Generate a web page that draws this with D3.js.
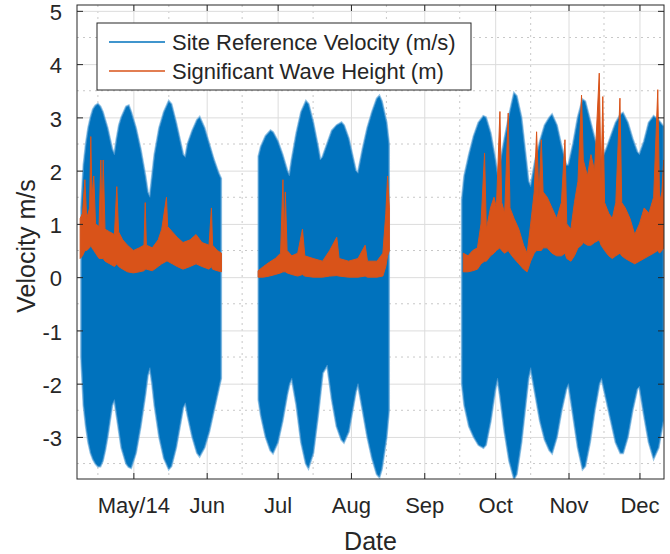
<!DOCTYPE html>
<html>
<head>
<meta charset="utf-8">
<script src="https://cdn.jsdelivr.net/npm/d3@7"></script>
<style>
  body { margin: 0; background: #fff; }
  svg text { font-family: "Liberation Sans", Arial, sans-serif; fill: #262626; }
</style>
</head>
<body>
<div id="chart"></div>
<script>
// tidal velocity: upper / lower edge of the dense blue trace, null = gap in the record
const velocityDates = [
  "2014-04-09", "2014-04-10", "2014-04-11", "2014-04-12", "2014-04-13", "2014-04-14", "2014-04-15",
  "2014-04-16", "2014-04-17", "2014-04-18", "2014-04-19", "2014-04-20", "2014-04-21", "2014-04-22",
  "2014-04-23", "2014-04-24", "2014-04-25", "2014-04-26", "2014-04-28", "2014-04-29", "2014-04-30",
  "2014-05-02", "2014-05-04", "2014-05-06", "2014-05-07", "2014-05-08", "2014-05-09", "2014-05-10",
  "2014-05-12", "2014-05-14", "2014-05-16", "2014-05-17", "2014-05-19", "2014-05-21", "2014-05-22",
  "2014-05-23", "2014-05-24", "2014-05-26", "2014-05-28", "2014-05-29", "2014-05-31",
  "2014-06-02", "2014-06-04", "2014-06-06", "2014-06-07",
  "2014-06-15",
  "2014-06-23", "2014-06-24", "2014-06-26", "2014-06-28", "2014-06-29",
  "2014-07-01", "2014-07-03", "2014-07-05", "2014-07-06", "2014-07-07", "2014-07-09", "2014-07-11",
  "2014-07-13", "2014-07-14", "2014-07-16", "2014-07-18", "2014-07-19", "2014-07-20", "2014-07-22",
  "2014-07-24", "2014-07-26", "2014-07-28", "2014-07-29", "2014-07-31",
  "2014-08-02", "2014-08-03", "2014-08-04", "2014-08-06", "2014-08-08", "2014-08-10", "2014-08-12",
  "2014-08-13", "2014-08-14", "2014-08-16", "2014-08-17",
  "2014-09-01",
  "2014-09-17", "2014-09-18", "2014-09-20", "2014-09-22", "2014-09-24", "2014-09-26", "2014-09-27",
  "2014-09-29",
  "2014-10-01", "2014-10-02", "2014-10-03", "2014-10-05", "2014-10-07", "2014-10-09", "2014-10-10",
  "2014-10-12", "2014-10-14", "2014-10-15", "2014-10-16", "2014-10-18", "2014-10-20", "2014-10-22",
  "2014-10-24", "2014-10-25", "2014-10-27", "2014-10-29", "2014-10-31",
  "2014-11-01", "2014-11-03", "2014-11-05", "2014-11-07", "2014-11-08", "2014-11-10", "2014-11-12",
  "2014-11-14", "2014-11-15", "2014-11-17", "2014-11-19", "2014-11-21", "2014-11-23", "2014-11-24",
  "2014-11-26", "2014-11-28", "2014-11-30",
  "2014-12-01", "2014-12-03", "2014-12-05", "2014-12-07", "2014-12-09", "2014-12-11"
];
const velocityMax = [
  1.3, 2.1, 2.5, 2.8, 3.0, 3.15, 3.22, 3.25, 3.2, 3.1, 2.95, 2.8, 2.6, 2.4,
  2.3, 2.6, 2.85, 3.0, 3.2, 3.22, 3.1,
  2.8, 2.4, 1.9, 1.6, 1.5, 1.9, 2.3, 2.8, 3.1, 3.3, 3.25, 2.9, 2.5, 2.3,
  2.25, 2.5, 2.75, 2.95, 3.0, 2.8,
  2.5, 2.2, 1.95, 1.85,
  null,
  2.27, 2.45, 2.65, 2.75, 2.72,
  2.55, 2.3, 2.0, 1.9, 2.2, 2.7, 3.1, 3.3, 3.25, 2.9, 2.45, 2.2, 2.25, 2.5,
  2.75, 2.85, 2.9, 2.85, 2.6,
  2.2, 2.0, 1.95, 2.4, 2.8, 3.1, 3.35, 3.4, 3.3, 2.9, 2.5,
  null,
  1.45, 1.9, 2.3, 2.65, 2.9, 3.02, 3.0, 2.7,
  2.2, 1.9, 2.1, 2.6, 3.05, 3.45, 3.4, 3.0, 2.2, 1.8, 1.7, 2.2, 2.55, 2.85,
  3.0, 3.05, 2.85, 2.45, 2.1,
  2.1, 2.5, 3.0, 3.33, 3.3, 2.95, 2.6, 2.3, 2.2, 2.4, 2.65, 2.9, 3.05, 3.08,
  2.9, 2.6, 2.35,
  2.3, 2.55, 2.9, 3.02, 2.95, 2.83
];
const velocityMin = [
  -1.5, -2.4, -2.8, -3.1, -3.3, -3.42, -3.5, -3.55, -3.55, -3.45, -3.25, -3.0, -2.7, -2.4,
  -2.3, -2.6, -2.9, -3.2, -3.5, -3.56, -3.58,
  -3.3, -2.8, -2.2, -1.85, -1.7, -2.0, -2.4, -3.0, -3.4, -3.6, -3.55, -3.2, -2.7, -2.45,
  -2.36, -2.6, -3.0, -3.3, -3.36, -3.2,
  -2.9, -2.5, -2.1, -1.9,
  null,
  -2.3, -2.6, -3.0, -3.25, -3.3,
  -3.1, -2.7, -2.2, -2.0, -1.9, -2.4, -3.1, -3.5, -3.58, -3.3, -2.6, -2.2, -1.8, -1.65,
  -2.3, -2.8, -3.05, -3.1, -2.9,
  -2.4, -2.15, -2.0, -2.5, -3.0, -3.4, -3.7, -3.75, -3.6, -3.0, -2.5,
  null,
  -2.0, -2.4, -2.8, -3.0, -3.15, -3.2, -3.15, -2.7,
  -2.1, -1.9, -2.2, -2.9, -3.45, -3.78, -3.7, -3.1, -2.3, -1.9, -1.7, -2.2, -2.7, -3.05,
  -3.25, -3.3, -3.0, -2.5, -2.1,
  -2.0, -2.6, -3.2, -3.6, -3.55, -3.1, -2.5, -2.0, -1.9, -2.3, -2.7, -3.1, -3.3, -3.3,
  -3.0, -2.5, -2.1,
  -2.05, -2.6, -3.1, -3.4, -3.2, -2.7
];

// significant wave height: low / high edge of the orange trace
const waveDates = [
  "2014-04-08 12", "2014-04-09 12", "2014-04-10 12", "2014-04-11 06", "2014-04-12 12", "2014-04-13 00",
  "2014-04-13 12", "2014-04-14 06", "2014-04-15 00", "2014-04-16 12", "2014-04-17 06", "2014-04-17 18",
  "2014-04-18 06", "2014-04-19 00", "2014-04-21 00", "2014-04-23 00", "2014-04-24 00", "2014-04-24 18",
  "2014-04-26 12", "2014-04-28 12", "2014-05-01 00", "2014-05-03 12", "2014-05-05 12", "2014-05-06 00",
  "2014-05-06 12", "2014-05-09 00", "2014-05-11 12", "2014-05-13 00", "2014-05-15 00", "2014-05-15 12",
  "2014-05-17 12", "2014-05-19 12", "2014-05-22 00", "2014-05-25 00", "2014-05-27 12", "2014-05-30 00",
  "2014-06-02 00", "2014-06-03 00", "2014-06-03 12", "2014-06-05 12", "2014-06-07 06", "2014-06-15 00",
  "2014-06-22 18", "2014-06-25 00", "2014-06-27 12", "2014-06-30 00", "2014-07-02 06", "2014-07-03 06",
  "2014-07-03 18", "2014-07-04 06", "2014-07-05 00", "2014-07-07 00", "2014-07-09 12", "2014-07-11 12",
  "2014-07-12 12", "2014-07-16 00", "2014-07-20 00", "2014-07-23 00", "2014-07-26 00", "2014-07-27 00",
  "2014-07-31 00", "2014-08-04 00", "2014-08-07 00", "2014-08-08 00", "2014-08-12 00", "2014-08-14 12",
  "2014-08-15 18", "2014-08-16 12", "2014-08-17 06", "2014-09-01 00",
  "2014-09-17 12", "2014-09-19 12", "2014-09-21 12", "2014-09-23 12", "2014-09-25 00", "2014-09-26 12",
  "2014-09-27 06", "2014-09-29 00", "2014-09-30 12", "2014-10-01 12", "2014-10-03 00", "2014-10-03 18",
  "2014-10-05 00", "2014-10-06 12", "2014-10-07 06", "2014-10-09 00", "2014-10-11 00", "2014-10-13 00",
  "2014-10-14 12", "2014-10-16 00", "2014-10-17 12", "2014-10-18 12", "2014-10-19 12", "2014-10-20 12",
  "2014-10-21 06", "2014-10-23 00", "2014-10-25 00", "2014-10-27 00", "2014-10-29 00", "2014-10-30 12",
  "2014-10-31 06", "2014-11-02 00", "2014-11-03 12", "2014-11-05 00", "2014-11-06 12", "2014-11-07 06",
  "2014-11-09 00", "2014-11-10 12", "2014-11-12 00", "2014-11-14 00", "2014-11-14 18", "2014-11-15 12",
  "2014-11-16 06", "2014-11-18 00", "2014-11-19 12", "2014-11-21 00", "2014-11-22 18", "2014-11-23 12",
  "2014-11-25 00", "2014-11-27 00", "2014-11-29 00", "2014-12-01 00", "2014-12-03 00", "2014-12-05 00",
  "2014-12-07 00", "2014-12-08 18", "2014-12-09 12", "2014-12-10 12", "2014-12-11 06"
];
const waveLow = [
  0.35, 0.4, 0.5, 0.5, 0.55, 0.6,
  0.55, 0.5, 0.45, 0.35, 0.35, 0.35,
  0.35, 0.3, 0.25, 0.2, 0.25, 0.2,
  0.15, 0.1, 0.08, 0.1, 0.12, 0.15,
  0.15, 0.12, 0.2, 0.25, 0.3, 0.3,
  0.25, 0.2, 0.15, 0.2, 0.25, 0.2,
  0.15, 0.2, 0.15, 0.12, 0.1, null,
  0.0, 0.0, 0.02, 0.05, 0.08, 0.1,
  0.1, 0.1, 0.08, 0.05, 0.02, 0.05,
  0.02, 0.0, 0.0, 0.02, 0.03, 0.02,
  0.0, 0.0, 0.02, 0.0, 0.0, 0.02,
  0.2, 0.4, 0.5, null,
  0.1, 0.1, 0.12, 0.15, 0.25, 0.3,
  0.3, 0.4, 0.45, 0.5, 0.55, 0.5,
  0.45, 0.5, 0.45, 0.35, 0.25, 0.15,
  0.1, 0.3, 0.45, 0.5, 0.5, 0.5,
  0.55, 0.55, 0.45, 0.4, 0.4, 0.45,
  0.35, 0.3, 0.4, 0.55, 0.6, 0.65,
  0.6, 0.6, 0.65, 0.7, 0.6, 0.55,
  0.5, 0.4, 0.35, 0.4, 0.45, 0.4,
  0.35, 0.3, 0.25, 0.3, 0.35, 0.4,
  0.45, 0.5, 0.45, 0.5, 0.55
];
const waveHigh = [
  1.1, 1.2, 1.83, 1.1, 1.3, 2.64,
  1.5, 1.9, 1.0, 0.95, 2.2, 1.0,
  2.2, 0.9, 0.85, 0.8, 1.7, 0.85,
  0.7, 0.6, 0.5, 0.55, 0.6, 1.4,
  0.6, 0.55, 0.7, 0.9, 1.5, 0.95,
  0.85, 0.75, 0.65, 0.7, 0.8, 0.65,
  0.6, 1.3, 0.6, 0.5, 0.45, null,
  0.12, 0.2, 0.28, 0.35, 0.45, 1.83,
  0.6, 1.6, 0.5, 0.4, 0.45, 0.9,
  0.4, 0.35, 0.3, 0.5, 0.75, 0.35,
  0.3, 0.35, 0.6, 0.3, 0.3, 0.45,
  1.2, 1.9, 1.3, null,
  0.45, 0.4, 0.5, 0.55, 1.0, 2.33,
  0.9, 1.3, 1.5, 1.3, 3.11, 1.4,
  1.2, 3.08, 1.3, 1.1, 0.9, 0.6,
  0.45, 1.0, 1.6, 2.73, 1.5, 2.58,
  1.6, 1.5, 1.3, 1.1, 1.4, 2.58,
  1.0, 0.9, 1.4, 1.8, 3.42, 2.2,
  1.9, 2.3, 2.0, 3.83, 1.8, 3.39,
  1.4, 1.2, 1.1, 1.4, 3.36, 1.4,
  1.3, 1.1, 0.8, 1.0, 1.3, 1.2,
  1.5, 3.52, 1.4, 1.6, 2.2
];

const monthTicks = ["2014-05-01", "2014-06-01", "2014-07-01", "2014-08-01", "2014-09-01", "2014-10-01", "2014-11-01", "2014-12-01"];
const monthLabels = ["May/14", "Jun", "Jul", "Aug", "Sep", "Oct", "Nov", "Dec"];
const minorDateTicks = ["2014-04-16", "2014-05-16", "2014-06-16", "2014-07-16", "2014-08-16", "2014-09-16", "2014-10-16", "2014-11-16"];
const yTicks = [-3, -2, -1, 0, 1, 2, 3, 4, 5];
const yMinorTicks = [-3.5, -2.5, -1.5, -0.5, 0.5, 1.5, 2.5, 3.5, 4.5];
const seriesNames = ["Site Reference Velocity (m/s)", "Significant Wave Height (m)"];

const width = 670, height = 554;
const margin = { top: 5, right: 6, bottom: 75, left: 77 };
const innerW = width - margin.left - margin.right;
const innerH = height - margin.top - margin.bottom;
const colors = { blue: "#0072BD", orange: "#D95319", axis: "#262626" };

const parseDay = d3.timeParse("%Y-%m-%d");
const parseHour = d3.timeParse("%Y-%m-%d %H");

const velocity = velocityDates.map((d, i) => ({ date: parseDay(d), hi: velocityMax[i], lo: velocityMin[i] }));
const wave = waveDates.map((d, i) => ({ date: parseHour(d), hi: waveHigh[i], lo: waveLow[i] }));

const x = d3.scaleTime()
  .domain([new Date(2014, 3, 7, 4), new Date(2014, 11, 11, 9)])
  .range([0, innerW]);

const y = d3.scaleLinear()
  .domain([-3.79, 5.11])
  .range([innerH, 0]);

const svg = d3.select("#chart")
  .append("svg")
  .attr("width", width)
  .attr("height", height);

const g = svg.append("g")
  .attr("transform", `translate(${margin.left},${margin.top})`);

svg.append("defs").append("clipPath")
  .attr("id", "plot-clip")
  .append("rect")
  .attr("width", innerW)
  .attr("height", innerH);

// minor grid (dotted)
g.append("g")
  .selectAll("line")
  .data(minorDateTicks.map(parseDay))
  .join("line")
  .attr("x1", d => x(d)).attr("x2", d => x(d))
  .attr("y1", 0).attr("y2", innerH)
  .attr("stroke", "#c8c8c8")
  .attr("stroke-dasharray", "2 4");

g.append("g")
  .selectAll("line")
  .data(yMinorTicks)
  .join("line")
  .attr("x1", 0).attr("x2", innerW)
  .attr("y1", d => y(d)).attr("y2", d => y(d))
  .attr("stroke", "#c8c8c8")
  .attr("stroke-dasharray", "2 4");

// major grid
g.append("g")
  .call(d3.axisBottom(x).tickValues(monthTicks.map(parseDay)).tickSize(innerH).tickFormat(""))
  .call(ax => ax.select(".domain").remove())
  .selectAll("line")
  .attr("stroke", "#dcdcdc");

g.append("g")
  .call(d3.axisRight(y).tickValues(yTicks).tickSize(innerW).tickFormat(""))
  .call(ax => ax.select(".domain").remove())
  .selectAll("line")
  .attr("stroke", "#dcdcdc");

const plot = g.append("g").attr("clip-path", "url(#plot-clip)");

const velocityArea = d3.area()
  .defined(d => d.hi != null)
  .x(d => x(d.date))
  .y0(d => y(d.lo))
  .y1(d => y(d.hi));

// soft fringe round the dense trace, then the solid band
plot.append("path")
  .datum(velocity)
  .attr("fill", "none")
  .attr("stroke", "#6aaedd")
  .attr("stroke-width", 2.5)
  .attr("stroke-opacity", 0.7)
  .attr("d", velocityArea);

plot.append("path")
  .datum(velocity)
  .attr("fill", colors.blue)
  .attr("stroke", "#3d8fcb")
  .attr("stroke-width", 0.8)
  .attr("d", velocityArea);

// wave height band
plot.append("path")
  .datum(wave)
  .attr("fill", colors.orange)
  .attr("stroke", colors.orange)
  .attr("stroke-width", 1)
  .attr("stroke-linejoin", "round")
  .attr("d", d3.area()
    .defined(d => d.hi != null)
    .x(d => x(d.date))
    .y0(d => y(d.lo))
    .y1(d => y(d.hi)));

// axes (MATLAB box style, ticks inward)
const tickLen = 6;
const xAxis = g.append("g")
  .attr("transform", `translate(0,${innerH})`)
  .call(d3.axisBottom(x).tickValues(monthTicks.map(parseDay)).tickSize(-tickLen).tickPadding(18)
    .tickFormat((d, i) => monthLabels[i]));
xAxis.select(".domain").remove();
xAxis.selectAll("line").attr("stroke", colors.axis);
xAxis.selectAll("text").style("font-size", "22px").attr("fill", colors.axis);

g.append("g")
  .call(d3.axisTop(x).tickValues(monthTicks.map(parseDay)).tickSize(-tickLen).tickFormat(""))
  .call(ax => ax.select(".domain").remove())
  .selectAll("line").attr("stroke", colors.axis);

const yAxis = g.append("g")
  .call(d3.axisLeft(y).tickValues(yTicks).tickSize(-tickLen).tickPadding(15).tickFormat(d => String(d)));
yAxis.select(".domain").remove();
yAxis.selectAll("line").attr("stroke", colors.axis);
yAxis.selectAll("text").style("font-size", "22px").attr("fill", colors.axis).attr("dy", "0.4em");

g.append("g")
  .attr("transform", `translate(${innerW},0)`)
  .call(d3.axisRight(y).tickValues(yTicks).tickSize(-tickLen).tickFormat(""))
  .call(ax => ax.select(".domain").remove())
  .selectAll("line").attr("stroke", colors.axis);

g.append("rect")
  .attr("width", innerW)
  .attr("height", innerH)
  .attr("fill", "none")
  .attr("stroke", colors.axis)
  .attr("stroke-width", 1);

// axis labels
svg.append("text")
  .attr("x", margin.left + innerW / 2)
  .attr("y", 550)
  .attr("text-anchor", "middle")
  .style("font-size", "25px")
  .text("Date");

svg.append("text")
  .attr("transform", `translate(35,${margin.top + innerH / 2 + 4}) rotate(-90)`)
  .attr("text-anchor", "middle")
  .style("font-size", "25px")
  .text("Velocity m/s");

// legend
const legend = svg.append("g").attr("transform", "translate(97,23)");
legend.append("rect")
  .attr("width", 374)
  .attr("height", 67)
  .attr("fill", "#fff")
  .attr("stroke", colors.axis);

const legendRows = legend.selectAll("g.row")
  .data(seriesNames)
  .join("g")
  .attr("class", "row")
  .attr("transform", (d, i) => `translate(0,${19 + i * 29})`);

legendRows.append("line")
  .attr("x1", 12).attr("x2", 68)
  .attr("stroke", (d, i) => i === 0 ? colors.blue : colors.orange)
  .attr("stroke-width", 1.5);

legendRows.append("text")
  .attr("x", 75)
  .attr("dy", "0.35em")
  .style("font-size", "22px")
  .text(d => d);
</script>
</body>
</html>
